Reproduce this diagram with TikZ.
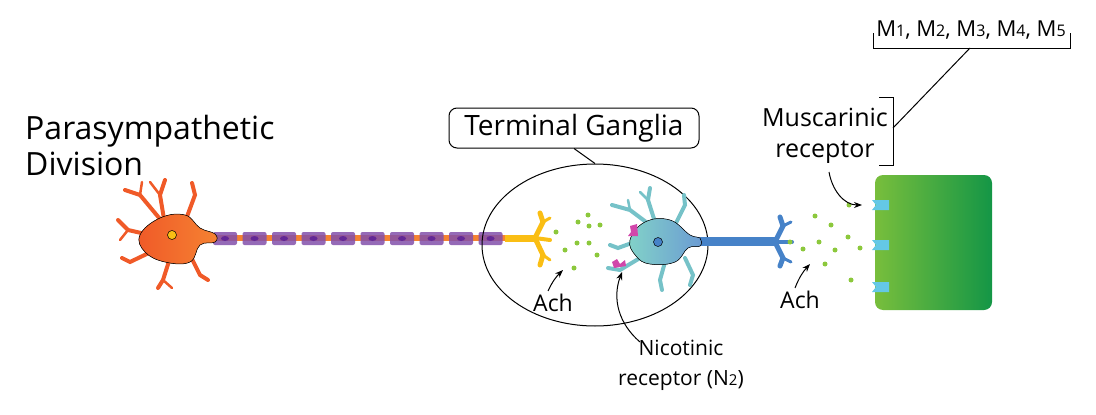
\documentclass[tikz,border=0pt]{standalone}
\usepackage{fontspec}
\setmainfont{Open Sans}
\usetikzlibrary{arrows.meta,shapes.geometric}
\definecolor{orng}{RGB}{240,90,40}
\definecolor{orng2}{RGB}{245,130,50}
\definecolor{myel}{RGB}{130,80,170}
\definecolor{nuc}{RGB}{100,40,150}
\definecolor{yel}{RGB}{250,190,20}
\definecolor{teal1}{RGB}{130,210,200}
\definecolor{blue1}{RGB}{70,130,200}
\definecolor{dot}{RGB}{140,200,60}
\definecolor{pink}{RGB}{210,70,170}
\definecolor{cyanr}{RGB}{100,200,230}
\definecolor{g1}{RGB}{120,190,60}
\definecolor{g2}{RGB}{20,150,70}
\tikzset{
 lbl/.style={font=\fontsize{#1}{#1}\selectfont, align=center, inner sep=1pt},
 den/.style={line width=#1, line cap=round},
 ach/.style={-{Stealth[length=8pt,width=6pt]}, line width=1pt},
 gdot/.style={circle, fill=dot, inner sep=0pt, minimum size=5pt},
}
\begin{document}
\begin{tikzpicture}[x=1pt,y=-1pt]
\useasboundingbox (0,0) rectangle (1096,415);
% title
\node[anchor=west, font=\fontsize{32}{36}\selectfont, align=left, inner sep=0pt] (title) at (25,145) {Parasympathetic\\Division};
% axon 1
\fill[orng2] (205,235) rectangle (505,241);
\foreach \i in {0,...,9}{
 \fill[myel,opacity=.85,rounded corners=2pt] (213+\i*29.5,232) rectangle (237+\i*29.5,245);
 \fill[nuc] (225+\i*29.5,238.5) ellipse (4 and 2.5);
}
% soma 1
\begin{scope}
\draw[orng, den=4pt] (165,225) -- (140,195) -- (125,190);
\draw[orng, den=2.5pt] (140,195) -- (142,182);
\draw[orng, den=4pt] (165,225) -- (160,195) -- (165,180);
\draw[orng, den=2.5pt] (160,195) -- (150,182);
\draw[orng, den=4pt] (185,222) -- (195,195) -- (192,183);
\draw[orng, den=4pt] (150,235) -- (128,230) -- (118,220);
\draw[orng, den=2.5pt] (128,230) -- (120,240);
\draw[orng, den=4pt] (155,250) -- (130,262) -- (122,258);
\draw[orng, den=4pt] (170,258) -- (163,280) -- (158,288);
\draw[orng, den=2.5pt] (163,280) -- (172,288);
\draw[orng, den=4pt] (190,255) -- (200,275) -- (208,280);
\fill[left color=orng, right color=orng2, draw=black, line width=.5pt] plot[smooth cycle, tension=.7] coordinates
 {(140,235) (160,218) (185,215) (200,228) (215,234) (215,242) (200,245) (190,262) (165,262) (145,252)};
\end{scope}
\node[circle, fill=yel, draw=black, line width=.5pt, minimum size=9pt, inner sep=0pt] (n1) at (172,235) {};
% yellow terminal
\fill[yel] (505,234.5) rectangle (535,241.5);
\draw[yel, den=5pt] (535,238) -- (543,222) -- (540,213);
\draw[yel, den=3pt] (543,222) -- (550,218);
\draw[yel, den=5pt] (535,238) -- (543,255) -- (540,265);
\draw[yel, den=3pt] (543,255) -- (550,260);
\draw[yel, den=4pt] (535,238) -- (550,240);
% ganglion ellipse
\node[ellipse, draw, line width=1pt, minimum width=226pt, minimum height=162pt] (gang) at (595,245) {};
\node[draw, rounded corners=8pt, line width=1pt, lbl=28, minimum width=250pt, minimum height=40pt] (tg) at (574,128) {Terminal Ganglia};
\draw[line width=1pt] (tg.south) -- (gang.north);
% dots 1
\foreach \p in {(556,232),(565,250),(578,222),(577,243),(589,226),(589,243),(597,255),(574,268),(588,215),(600,225)}
 \node[gdot] at \p {};
% teal neuron
\fill[blue1] (690,237) rectangle (775,246);
\draw[teal1!80!blue1, den=4pt] (650,225) -- (630,210) -- (612,205);
\draw[teal1!80!blue1, den=2.5pt] (630,210) -- (628,200);
\draw[teal1!80!blue1, den=4pt] (655,222) -- (648,200) -- (650,188);
\draw[teal1!80!blue1, den=2.5pt] (648,200) -- (640,192);
\draw[teal1!80!blue1, den=4pt] (675,225) -- (685,205) -- (684,195);
\draw[teal1!80!blue1, den=4pt] (640,240) -- (618,248) -- (610,245);
\draw[teal1!80!blue1, den=4pt] (640,258) -- (620,270) -- (608,268);
\draw[teal1!80!blue1, den=4pt] (665,262) -- (660,280) -- (662,290);
\draw[teal1!80!blue1, den=4pt] (685,258) -- (693,275) -- (690,285);
\fill[left color=teal1, right color=blue1!80, draw=black, line width=.5pt] plot[smooth cycle, tension=.7] coordinates
 {(630,240) (645,222) (670,220) (690,235) (700,238) (700,246) (688,248) (675,262) (650,264) (636,256)};
\node[circle, fill=blue1, draw=black, line width=.5pt, minimum size=9pt, inner sep=0pt] (n2) at (658,242) {};
\fill[pink] (630,226) -- (637,224) -- (638,236) -- (628,236) -- (631,232) -- cycle;
\fill[pink] (612,262) -- (617,259) -- (620,264) -- (625,260) -- (626,266) -- (614,268) -- cycle;
% blue terminal
\draw[blue1, den=5pt] (775,242) -- (783,226) -- (780,217);
\draw[blue1, den=3pt] (783,226) -- (791,222);
\draw[blue1, den=5pt] (775,242) -- (783,258) -- (780,266);
\draw[blue1, den=3pt] (783,258) -- (791,262);
\draw[blue1, den=4pt] (775,242) -- (792,242);
% dots 2
\foreach \p in {(790,242),(803,249),(815,216),(819,242),(831,225),(835,250),(825,264),(848,237),(849,205),(860,248),(851,280)}
 \node[gdot] at \p {};
% effector
\node[draw=none, rounded corners=8pt, left color=g1, right color=g2, minimum width=117pt, minimum height=135pt] (eff) at (933.5,242.5) {};
\foreach \y in {205,245,287}
 \fill[cyanr] (872,\y-5) -- (889,\y-5) -- (889,\y+5) -- (872,\y+5) -- (876,\y) -- cycle;
% labels
\node[lbl=23] (ach1) at (553,303) {Ach};
\node[lbl=23] (ach2) at (800,300) {Ach};
\draw[ach] (ach1.north) ++(-5,-2) to[bend left=10] (563,270);
\draw[ach] (ach2.north) ++(-5,-2) to[bend left=10] (810,264);
\node[font=\fontsize{21}{30}\selectfont, align=center, inner sep=1pt] (nic) at (681,365) {Nicotinic\\receptor (N{\fontsize{15}{16}\selectfont 2})};
\draw[ach] (640,342) to[bend left=35] (622,272);
\node[font=\fontsize{25}{31}\selectfont, align=center, inner sep=1pt] (mus) at (825,136) {Muscarinic\\receptor};
\draw[ach] (829,172) to[out=-80,in=180] (862,205);
\draw[line width=1pt] (879,97) -- (893,97) -- (893,165) -- (879,165);
\node[lbl=22] (mlist) at (971,30) {M{\fontsize{16}{16}\selectfont 1}, M{\fontsize{16}{16}\selectfont 2}, M{\fontsize{16}{16}\selectfont 3}, M{\fontsize{16}{16}\selectfont 4}, M{\fontsize{16}{16}\selectfont 5}};
\draw[line width=1pt] (873,33) -- (873,48) -- (1070,48) -- (1070,33);
\coordinate (bm) at (970,48);
\coordinate (bq) at (893,128);
\draw[line width=1pt] (bm) -- (bq);
\end{tikzpicture}
\end{document}
